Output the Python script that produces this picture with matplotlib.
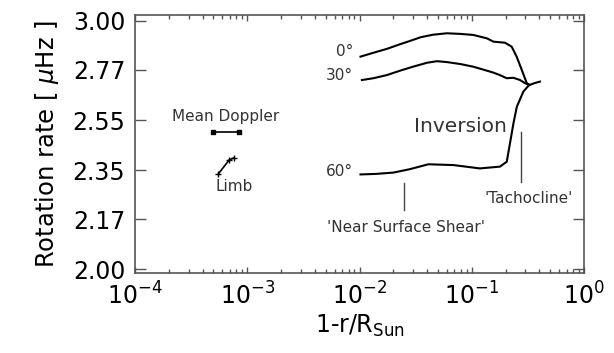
import matplotlib
matplotlib.use("Agg")
from matplotlib import pyplot as plt
from matplotlib.ticker import FixedLocator, NullLocator, FixedFormatter

# latitude profiles (1 - r/R_sun, rotation rate in muHz)
x_0 = [0.0102, 0.0133, 0.0175, 0.023, 0.028, 0.035, 0.045, 0.060, 0.079,
       0.103, 0.136, 0.156, 0.198, 0.227, 0.251, 0.279, 0.309, 0.326, 0.366, 0.405]
y_0 = [2.829, 2.847, 2.865, 2.887, 2.902, 2.920, 2.932, 2.939, 2.936,
       2.931, 2.915, 2.899, 2.894, 2.875, 2.829, 2.768, 2.709, 2.701, 2.710, 2.716]

x_30 = [0.0105, 0.0133, 0.0175, 0.023, 0.030, 0.040, 0.049, 0.060, 0.079,
        0.103, 0.136, 0.156, 0.178, 0.205, 0.235, 0.269, 0.298, 0.326]
y_30 = [2.723, 2.731, 2.745, 2.765, 2.783, 2.801, 2.808, 2.804, 2.795,
        2.783, 2.765, 2.756, 2.745, 2.731, 2.733, 2.723, 2.709, 2.701]

x_60 = [0.0102, 0.014, 0.020, 0.028, 0.041, 0.0685, 0.0118e1, 0.1785,
        0.205, 0.219, 0.235, 0.252, 0.288, 0.319, 0.326]
y_60 = [2.334, 2.336, 2.341, 2.354, 2.373, 2.370, 2.357, 2.364,
        2.383, 2.456, 2.537, 2.607, 2.672, 2.697, 2.701]

# surface measurements
doppler_x = [4.92e-4, 8.5e-4]
doppler_y = [2.50, 2.50]
limb_x = [5.5e-4, 6.9e-4, 7.6e-4]
limb_y = [2.335, 2.39, 2.398]

yticks = [2.00, 2.17, 2.35, 2.55, 2.77, 3.00]
xticks = [1e-4, 1e-3, 1e-2, 1e-1, 1e0]
xticklabels = ["$10^{-4}$", "$10^{-3}$", "$10^{-2}$", "$10^{-1}$", "$10^{0}$"]

fig = plt.figure(figsize=(6.14, 3.53), dpi=100)
ax = fig.add_axes([0.2199, 0.2266, 0.7313, 0.7309])

for xs, ys in [(x_0, y_0), (x_30, y_30), (x_60, y_60)]:
    ax.plot(xs, ys, color="black", linewidth=1.5)

ax.plot(doppler_x, doppler_y, color="black", linewidth=1.2, marker="s", markersize=2.5)
ax.plot(limb_x, limb_y, color="black", linewidth=1.2, marker="+", markersize=5)

# markers for shear layers
ax.plot([0.025, 0.025], [2.202, 2.303], color="#444444", linewidth=1)
ax.plot([0.273, 0.273], [2.307, 2.502], color="#444444", linewidth=1)

tc = "#333333"
ax.text(0.0088, 2.852, "0°", ha="right", va="center", fontsize=11, color=tc)
ax.text(0.0088, 2.742, "30°", ha="right", va="center", fontsize=11, color=tc)
ax.text(0.0088, 2.344, "60°", ha="right", va="center", fontsize=11, color=tc)
ax.text(0.0786, 2.523, "Inversion", ha="center", va="center", fontsize=14.5, color=tc)
ax.text(0.319, 2.245, "'Tachocline'", ha="center", va="center", fontsize=11, color=tc)
ax.text(0.026, 2.141, "'Near Surface Shear'", ha="center", va="center", fontsize=11, color=tc)
ax.text(6.47e-4, 2.564, "Mean Doppler", ha="center", va="center", fontsize=11, color=tc)
ax.text(7.62e-4, 2.287, "Limb", ha="center", va="center", fontsize=11, color=tc)

ax.set_xscale("log")
ax.set_yscale("log")
ax.set_xlim(1e-4, 1e0)
ax.set_ylim(1.987, 3.028)

ax.yaxis.set_major_locator(FixedLocator(yticks))
ax.yaxis.set_major_formatter(FixedFormatter(["%.2f" % v for v in yticks]))
ax.yaxis.set_minor_locator(NullLocator())
ax.xaxis.set_major_locator(FixedLocator(xticks))
ax.xaxis.set_major_formatter(FixedFormatter(xticklabels))

ax.tick_params(axis="both", which="both", direction="in", top=True, right=True,
               colors="#555555", labelcolor="black", labelsize=17)
ax.tick_params(axis="y", which="major", length=8, width=1, pad=7)
ax.tick_params(axis="x", which="major", length=4, width=1, pad=7)
ax.tick_params(axis="x", which="minor", length=3, width=1)

for s in ax.spines.values():
    s.set_color("#555555")
    s.set_linewidth(1.2)

ax.set_xlabel("1-r/R$_{\\rm Sun}$", fontsize=17, labelpad=2)
ax.set_ylabel("Rotation rate [ $\\mu$Hz ]", fontsize=17.5, labelpad=8)

fig.savefig("out.png", dpi=100)
